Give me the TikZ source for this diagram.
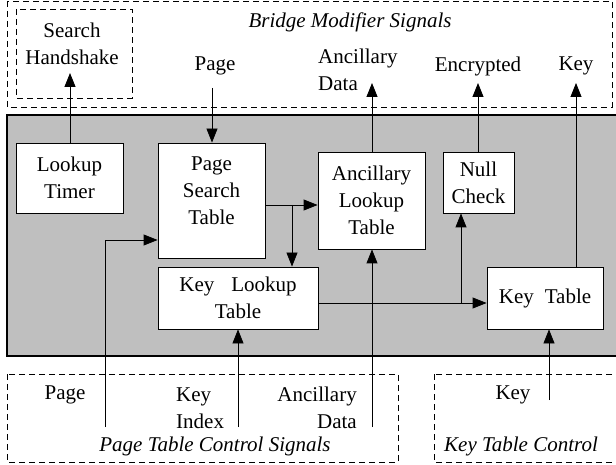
\documentclass[tikz,border=0pt]{standalone}
\usepackage{fontspec}
\setmainfont{Liberation Serif}
\usetikzlibrary{arrows.meta}

\tikzset{
  blk/.style={draw, fill=white, line width=0.8pt, align=center, inner sep=0pt},
  dbox/.style={draw, dash pattern=on 6pt off 4pt, line width=0.8pt},
  sig/.style={-{Triangle[length=14pt,width=11pt]}, line width=0.8pt},
  txt/.style={align=center, inner sep=0pt},
  ital/.style={inner sep=0pt, font=\fontsize{21}{27}\selectfont\itshape},
}

\begin{document}
\begin{tikzpicture}[x=1pt, y=-1pt, font=\fontsize{21}{27}\selectfont]
  \useasboundingbox (0,0) rectangle (616,465);

  % signal groups
  \draw[dbox] (7,1) rectangle (612,107);
  \draw[dbox] (16,9) rectangle (132,98);
  \draw[dbox] (7,374) rectangle (398,462);
  \draw[dbox] (434,374) rectangle (640,462);

  % core
  \draw[line width=2pt, fill=gray!50] (7,115) rectangle (640,356);

  \node[blk, minimum width=107pt, minimum height=70pt] (timer) at (69.5,178) {Lookup\\Timer};
  \node[blk, minimum width=107pt, minimum height=115pt,
        label={[txt, yshift=10pt]center:Page\\Search\\Table}] (pst) at (211.5,200.5) {};
  \node[blk, minimum width=107pt, minimum height=97pt] (alt) at (371.5,200.5) {Ancillary\\Lookup\\Table};
  \node[blk, minimum width=71pt, minimum height=61pt] (null) at (478.5,182.5) {Null\\Check};
  \node[blk, minimum width=160pt, minimum height=62pt] (klt) at (238,298) {Key\hspace{17pt}Lookup\\Table};
  \node[blk, minimum width=116pt, minimum height=62pt] (kt) at (545,298) {Key\hspace{11pt}Table};

  % labels
  \node[ital] (brgtitle) at (350,22) {Bridge Modifier Signals};
  \node[txt] (hshk) at (72,44) {Search\\Handshake};
  \node[txt] (pgtop) at (215,66) {Page};
  \node[txt, align=left, anchor=west] (anctop) at (318,70) {Ancillary\\Data};
  \node[txt] (enc) at (478,66) {Encrypted};
  \node[txt] (keytop) at (576,66) {Key};
  \node[txt] (pgbot) at (65,395) {Page};
  \node[txt, align=left, anchor=west] (kidx) at (176,408) {Key\\Index};
  \node[txt, align=right, anchor=east] (ancbot) at (357,408) {Ancillary\\Data};
  \node[ital] (ptctl) at (215,446) {Page Table Control Signals};
  \node[txt] (keybot) at (513,395) {Key};
  \node[ital] (ktctl) at (521,446) {Key Table Control};

  % signal ends and branch points
  \coordinate (hsin) at (70,73);
  \coordinate (pgin) at (212,88);
  \coordinate (ancout) at (372,83);
  \coordinate (encout) at (478,83);
  \coordinate (keyout) at (576,83);
  \coordinate (pgsrc) at (105,427);
  \coordinate (kidxsrc) at (238,427);
  \coordinate (ancsrc) at (372,427);
  \coordinate (keysrc) at (549,400);
  \coordinate (br1) at (292,205);
  \coordinate (br2) at (461,303);

  \draw[sig] (hsin |- timer.north) -- (hsin);
  \draw[sig] (pgin) -- (pgin |- pst.north);
  \draw[sig] (pst.east |- br1) -- (alt.west |- br1);
  \draw[sig] (br1) -- (br1 |- klt.north);
  \draw[sig] (pgsrc) |- (pst.west |- 0,240);
  \draw[sig] (klt.east |- br2) -- (kt.west |- br2);
  \draw[sig] (br2) -- (br2 |- null.south);
  \draw[sig] (ancout |- alt.north) -- (ancout);
  \draw[sig] (encout |- null.north) -- (encout);
  \draw[sig] (keyout |- kt.north) -- (keyout);
  \draw[sig] (kidxsrc) -- (kidxsrc |- klt.south);
  \draw[sig] (ancsrc) -- (ancsrc |- alt.south);
  \draw[sig] (keysrc) -- (keysrc |- kt.south);
\end{tikzpicture}
\end{document}
